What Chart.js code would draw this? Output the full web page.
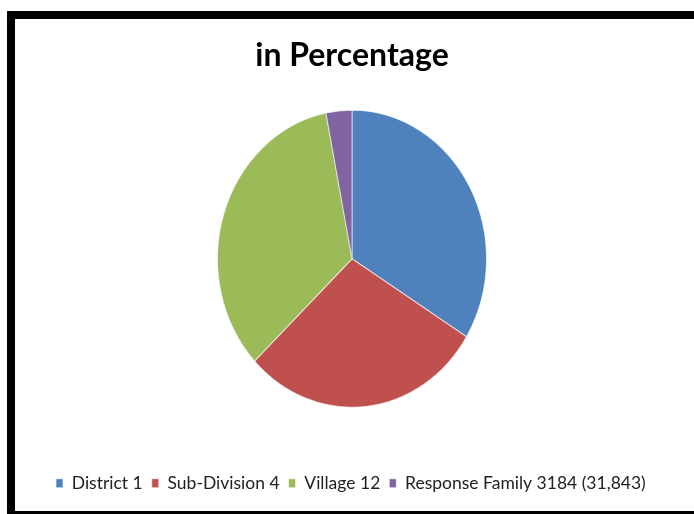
<!DOCTYPE html>
<html>
<head>
<meta charset="utf-8">
<script src="https://cdn.jsdelivr.net/npm/chart.js@4/dist/chart.umd.min.js"></script>
<style>
  body { margin: 0; background: #fff; }
  #marco {
    position: absolute; left: 7px; top: 11px;
    width: 700px; height: 492px;
    border-left: 8px solid #000;
    border-top: 8px solid #000;
    border-bottom: 8px solid #000;
  }
  #grafico { position: absolute; left: 0; top: 0; }
</style>
</head>
<body>
<div id="marco"></div>
<canvas id="grafico" width="694" height="514"></canvas>
<script>
// Datos del gráfico (porcentajes)
const categorias = ["District 1", "Sub-Division 4", "Village 12", "Response Family 3184 (31,843)"];
const porcentajes = [33.8, 29.1, 34.0, 3.1];
const colores = ["#4F81BD", "#C0504D", "#9BBB59", "#8064A2"];

// Estira el pastel verticalmente (forma ovalada)
const estiramiento = 1.104;
const ovalo = {
    id: "ovalo",
    beforeDatasetsDraw(chart) {
        const { ctx, chartArea } = chart;
        const cx = (chartArea.left + chartArea.right) / 2;
        const cy = (chartArea.top + chartArea.bottom) / 2;
        ctx.save();
        ctx.translate(cx, cy);
        ctx.scale(1, estiramiento);
        ctx.translate(-cx, -cy);
    },
    afterDatasetsDraw(chart) {
        chart.ctx.restore();
    }
};

const ctx = document.getElementById("grafico").getContext("2d");
window.myChart = new Chart(ctx, {
    type: "pie",
    data: {
        labels: categorias,
        datasets: [{
            data: porcentajes,
            backgroundColor: colores,
            borderColor: "rgba(255,255,255,0.6)",
            borderWidth: 1,
            radius: 134.5
        }]
    },
    options: {
        responsive: false,
        animation: false,
        layout: { padding: { left: 47, right: 37, top: 0, bottom: 12 } },
        plugins: {
            title: {
                display: true,
                text: "in Percentage",
                color: "#000",
                font: { family: "Lato", size: 32, weight: "bold", lineHeight: 1 },
                padding: { top: 40, bottom: -20 }
            },
            legend: {
                position: "bottom",
                align: "start",
                labels: {
                    color: "#222",
                    font: { family: "Lato", size: 17.5 },
                    boxWidth: 7,
                    boxHeight: 9,
                    padding: 9
                }
            },
            tooltip: { enabled: false }
        }
    },
    plugins: [ovalo]
});
</script>
</body>
</html>
